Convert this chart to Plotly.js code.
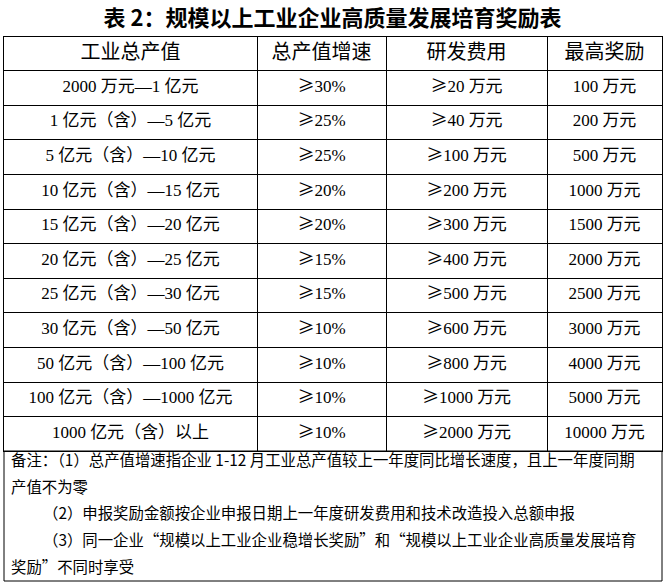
<!DOCTYPE html>
<html>
<head>
<meta charset="utf-8">
<script src="https://cdn.plot.ly/plotly-3.0.1.min.js"></script>
<style>html,body{margin:0;padding:0;background:#fff;}#chart{width:665px;height:585px;}</style>
</head>
<body>
<div id="chart"></div>
<script>
const titleText = "表 2：规模以上工业企业高质量发展培育奖励表";
const headers = ["工业总产值", "总产值增速", "研发费用", "最高奖励"];
const outputRanges = ["2000 万元—1 亿元", "1 亿元（含）—5 亿元", "5 亿元（含）—10 亿元", "10 亿元（含）—15 亿元", "15 亿元（含）—20 亿元", "20 亿元（含）—25 亿元", "25 亿元（含）—30 亿元", "30 亿元（含）—50 亿元", "50 亿元（含）—100 亿元", "100 亿元（含）—1000 亿元", "1000 亿元（含）以上"];
const growthRates = ["≥30%", "≥25%", "≥25%", "≥20%", "≥20%", "≥15%", "≥15%", "≥10%", "≥10%", "≥10%", "≥10%"];
const rdCosts = ["≥20 万元", "≥40 万元", "≥100 万元", "≥200 万元", "≥300 万元", "≥400 万元", "≥500 万元", "≥600 万元", "≥800 万元", "≥1000 万元", "≥2000 万元"];
const maxRewards = ["100 万元", "200 万元", "500 万元", "1000 万元", "1500 万元", "2000 万元", "2500 万元", "3000 万元", "4000 万元", "5000 万元", "10000 万元"];
const notesLines = [
  "备注：（1）总产值增速指企业 1-12 月工业总产值较上一年度同比增长速度，且上一年度同期",
  "产值不为零",
  "（2）申报奖励金额按企业申报日期上一年度研发费用和技术改造投入总额申报",
  "（3）同一企业“规模以上工业企业稳增长奖励”和“规模以上工业企业高质量发展培育",
  "奖励”不同时享受"
];
const notesIndent = [false, false, true, true, false];

// ---- layout geometry (pixels) ----
const W = 665, H = 585;
const tableLeft = 4, tableRight = 662, tableTop = 37, tableBottom = 451, notesBottom = 581;
const headerHeight = 33;
const colWidths = [253, 129, 161, 115];
const plotW = tableRight - tableLeft, plotH = tableBottom - tableTop;
// paper coordinates are relative to the plot area
const paperX = v => (v - tableLeft) / plotW;
const paperY = v => (tableBottom - v) / plotH;

const nRows = outputRanges.length;
const bodyHeight = plotH - headerHeight;
const colEdges = [0];
colWidths.forEach(w => colEdges.push(colEdges[colEdges.length - 1] + w));
const rowEdges = [0, headerHeight];
for (let k = 1; k <= nRows; k++) rowEdges.push(headerHeight + Math.round(k * bodyHeight / nRows));
const colCenters = colWidths.map((w, i) => (colEdges[i] + colEdges[i + 1]) / 2);
const rowCenters = rowEdges.slice(0, -1).map((e, i) => (e + rowEdges[i + 1]) / 2);

const geFix = s => s.replace("≥", '<span style="font-family:\'Noto Sans CJK SC\'">≥</span>');
const columns = [outputRanges, growthRates.map(geFix), rdCosts.map(geFix), maxRewards];

const bodyX = [], bodyY = [], bodyT = [];
columns.forEach((col, c) => col.forEach((v, r) => {
  bodyX.push(colCenters[c]); bodyY.push(rowCenters[r + 1]); bodyT.push(v);
}));

const headerTrace = {
  type: "scatter", mode: "text",
  x: colCenters, y: headers.map(() => rowCenters[0]), text: headers,
  textposition: "middle center",
  textfont: {family: "'Noto Sans CJK SC', sans-serif", size: 20, color: "#000"},
  hoverinfo: "skip", showlegend: false, cliponaxis: false
};
const bodyTrace = {
  type: "scatter", mode: "text",
  x: bodyX, y: bodyY, text: bodyT,
  textposition: "middle center",
  textfont: {family: "'Liberation Serif', 'Noto Sans CJK SC', serif", size: 17, color: "#000"},
  hoverinfo: "skip", showlegend: false, cliponaxis: false
};

const noteYs = [459, 486, 512, 539, 566];
const annotations = notesLines.map((t, i) => ({
  text: t,
  xref: "paper", yref: "paper",
  x: paperX(notesIndent[i] ? 41 : 9), y: paperY(noteYs[i]),
  xanchor: "left", yanchor: "middle",
  showarrow: false,
  font: {family: "'Noto Sans CJK SC', sans-serif", size: 15.4, color: "#000"}
}));

const axisCommon = {
  showticklabels: false, ticks: "", zeroline: false,
  showgrid: true, gridcolor: "#000", gridwidth: 1,
  showline: true, mirror: true, linecolor: "#000", linewidth: 1,
  fixedrange: true
};

const layout = {
  width: W, height: H,
  margin: {l: tableLeft, r: W - tableRight, t: tableTop, b: H - tableBottom},
  paper_bgcolor: "#fff",
  plot_bgcolor: "#fff",
  title: {
    text: "<b>" + titleText + "</b>",
    x: 0.5, xanchor: "center",
    y: 1 - 18 / H, yanchor: "middle", yref: "container",
    font: {family: "'Noto Sans CJK SC', sans-serif", size: 22, color: "#000"}
  },
  xaxis: Object.assign({range: [0, colEdges[colEdges.length - 1]], tickmode: "array", tickvals: colEdges.slice(1, -1)}, axisCommon),
  yaxis: Object.assign({range: [rowEdges[rowEdges.length - 1], 0], tickmode: "array", tickvals: rowEdges.slice(1, -1)}, axisCommon),
  shapes: [{
    type: "rect", xref: "paper", yref: "paper",
    x0: 0, x1: 1, y0: paperY(notesBottom), y1: 0,
    line: {color: "#000", width: 1}, fillcolor: "rgba(0,0,0,0)"
  }],
  annotations: annotations
};

Plotly.newPlot("chart", [headerTrace, bodyTrace], layout, {displayModeBar: false, staticPlot: true});
</script>
</body>
</html>
